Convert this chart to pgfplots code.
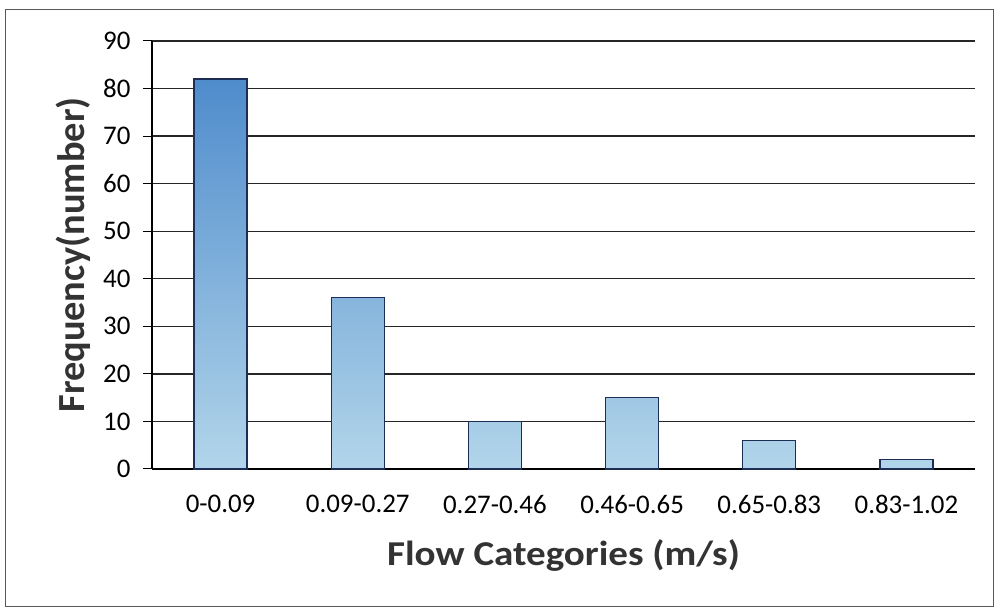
\documentclass[border=0pt]{standalone}
\usepackage{pgfplots}
\pgfplotsset{compat=1.18}
\usepackage{fontspec}
\setmainfont{Carlito}
\definecolor{bartop}{HTML}{4F8CCC}
\definecolor{barbot}{HTML}{B2D5EA}
\definecolor{baredge}{HTML}{1C2E55}
\begin{document}
\begin{tikzpicture}[x=1bp,y=1bp]
\useasboundingbox (-152,-142) rectangle (849,469);
\draw[gray!70!black, line width=1bp] (-146,-138) rectangle (841,459);
\begin{axis}[
  at={(0,0)}, anchor=origin,
  scale only axis, width=823bp, height=428bp,
  xmin=0.5, xmax=6.5, ymin=0, ymax=90,
  ytick={0,10,...,90},
  xtick={1,...,6},
  xticklabels={0-0.09,0.09-0.27,0.27-0.46,0.46-0.65,0.65-0.83,0.83-1.02},
  minor xtick={0.5,1.5,...,6.5},
  xtick style={draw=none},
  minor x tick style={black, line width=0.8bp},
  minor tick length=6bp,
  y tick style={black, line width=1bp},
  major tick length=9bp,
  tick align=outside,
  axis x line*=bottom, axis y line*=left,
  axis line style={black, line width=1.3bp},
  ymajorgrids, grid style={black!85, line width=1.3bp},
  /pgf/number format/assume math mode=true,
  ticklabel style={font=\fontsize{27}{31}\selectfont, text=black},
  xticklabel style={yshift=-14bp},
  yticklabel style={xshift=-9bp},
  xlabel={\scalebox{1.12}[1]{\textbf{Flow Categories (m/s)}}},
  ylabel={\textbf{Frequency(number)}},
  label style={text=black!80},
  xlabel style={font=\fontsize{35}{40}\selectfont, yshift=-19bp},
  ylabel style={font=\fontsize{38.5}{44}\selectfont, yshift=6bp},
  clip=false,
]
\addplot[ybar, bar width=53bp, draw=baredge, line width=1.2bp,
  top color=bartop, bottom color=barbot] coordinates {
  (1,82) (2,36) (3,10) (4,15) (5,6) (6,2)
};
\end{axis}
\end{tikzpicture}
\end{document}
